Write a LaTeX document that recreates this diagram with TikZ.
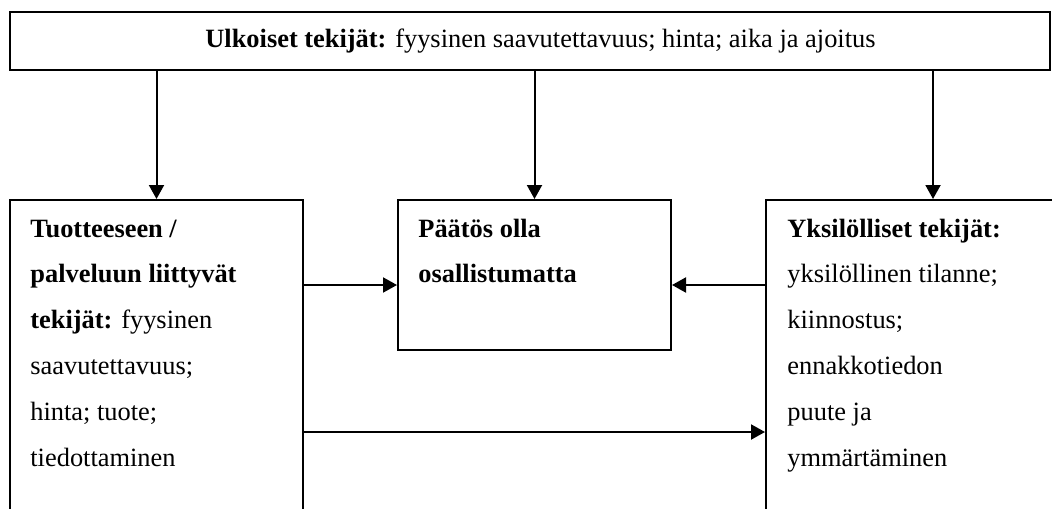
\documentclass[tikz,border=0pt]{standalone}
\usepackage{fontspec}
\setmainfont{Liberation Serif}
\usetikzlibrary{arrows.meta}
\begin{document}
\begin{tikzpicture}[x=0.5pt,y=-0.5pt,
  box/.style={draw,line width=1pt,rectangle,inner sep=0pt},
  arr/.style={line width=1pt,-{Triangle[length=7pt,width=7.5pt]}},
  txt/.style={anchor=base west,inner sep=0pt,font=\fontsize{13.2pt}{15.5pt}\selectfont}]
\useasboundingbox (0,0) rectangle (1052,508);
\clip (0,0) rectangle (1052,508);
\fill[white] (0,0) rectangle (1052,508);
\node[box,minimum width=520pt,minimum height=29pt] (top) at (530,41) {};
\node[box,minimum width=146.5pt,minimum height=180pt] (lt) at (156.5,380) {};
\node[box,minimum width=136.5pt,minimum height=75pt] (mid) at (534.5,275) {};
\node[box,minimum width=167pt,minimum height=180pt] (rt) at (933,380) {};
% texts
\node[txt] (t0) at (205,47) {\textbf{Ulkoiset tekijät:} fyysinen saavutettavuus; hinta; aika ja ajoitus};
\node[txt] (l1) at (30,237) {\textbf{Tuotteeseen /}};
\node[txt] (l2) at (30,282) {\textbf{palveluun liittyvät}};
\node[txt] (l3) at (30,328) {\textbf{tekijät:} fyysinen};
\node[txt] (l4) at (30,374) {saavutettavuus;};
\node[txt] (l5) at (30,420) {hinta; tuote;};
\node[txt] (l6) at (30,466) {tiedottaminen};
\node[txt] (m1) at (418,237) {\textbf{Päätös olla}};
\node[txt] (m2) at (418,282) {\textbf{osallistumatta}};
\node[txt] (r1) at (787,237) {\textbf{Yksilölliset tekijät:}};
\node[txt] (r2) at (787,282) {yksilöllinen tilanne;};
\node[txt] (r3) at (787,328) {kiinnostus;};
\node[txt] (r4) at (787,374) {ennakkotiedon};
\node[txt] (r5) at (787,420) {puute ja};
\node[txt] (r6) at (787,466) {ymmärtäminen};
% arrows
\coordinate (ya) at (0,285);
\coordinate (yb) at (0,432);
\draw[arr] (top.south -| lt.north) -- (lt.north);
\draw[arr] (top.south -| mid.north) -- (mid.north);
\draw[arr] (top.south -| rt.north) -- (rt.north);
\draw[arr] (lt.east |- ya) -- (mid.west |- ya);
\draw[arr] (rt.west |- ya) -- (mid.east |- ya);
\draw[arr] (lt.east |- yb) -- (rt.west |- yb);
\end{tikzpicture}
\end{document}
